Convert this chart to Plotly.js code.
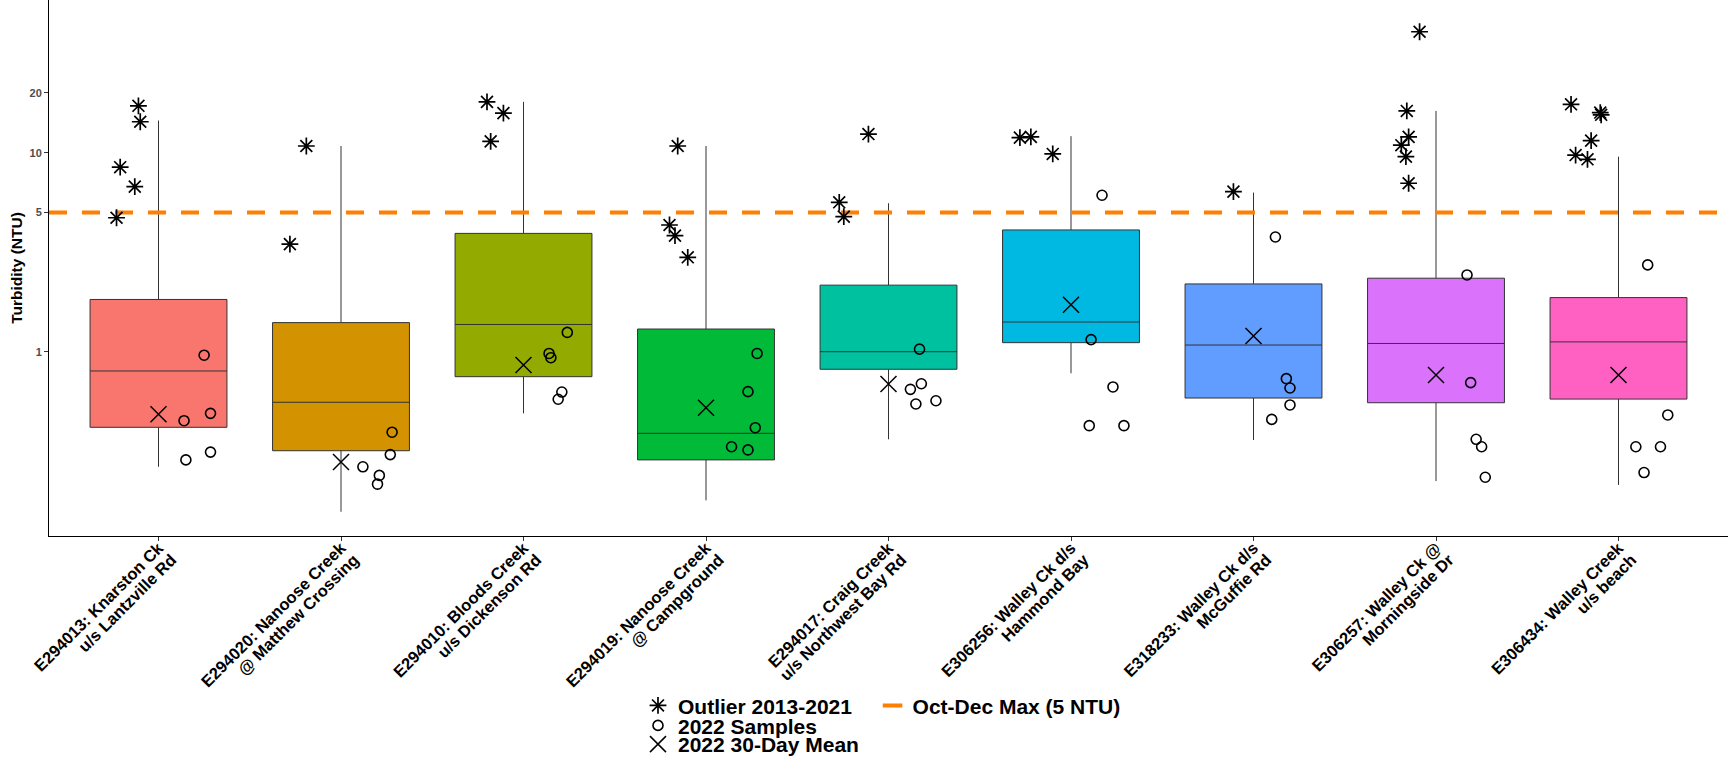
<!DOCTYPE html>
<html><head><meta charset="utf-8">
<script src="https://cdn.plot.ly/plotly-3.0.1.min.js"></script>
<style>html,body{margin:0;padding:0;background:#fff}#chart{width:1732px;height:767px}</style>
</head><body><div id="chart"></div>
<script>
const siteLine1 = [
  "E294013: Knarston Ck", "E294020: Nanoose Creek", "E294010: Bloods Creek",
  "E294019: Nanoose Creek", "E294017: Craig Creek", "E306256: Walley Ck d/s",
  "E318233: Walley Ck d/s", "E306257: Walley Ck @", "E306434: Walley Creek"
];
const siteLine2 = [
  "u/s Lantzville Rd", "@ Matthew Crossing", "u/s Dickenson Rd",
  "@ Campground", "u/s Northwest Bay Rd", "Hammond Bay",
  "McGuffie Rd", "Morningside Dr", "u/s beach"
];
const boxColors = ["#F8766D","#D39200","#93AA00","#00BA38","#00C19F","#00B9E3","#619CFF","#DB72FB","#FF61C3"];
const q1Vals     = [0.417, 0.318, 0.749, 0.286, 0.816, 1.11, 0.585, 0.554, 0.578];
const medianVals = [0.80, 0.557, 1.37, 0.389, 1.00, 1.41, 1.08, 1.10, 1.12];
const q3Vals     = [1.83, 1.40, 3.93, 1.30, 2.16, 4.09, 2.19, 2.34, 1.87];
const lowerVals  = [0.264, 0.157, 0.49, 0.179, 0.363, 0.779, 0.360, 0.224, 0.214];
const upperVals  = [14.5, 10.8, 18.0, 10.8, 5.57, 12.1, 6.30, 16.2, 9.55];

const outlierSite   = [0,0,0,0,0, 1,1, 2,2,2, 3,3,3,3, 4,4,4, 5,5,5, 6, 7,7,7,7,7,7, 8,8,8,8,8,8];
const outlierValue  = [17.2,14.3,8.45,6.75,4.71, 10.8,3.47, 18.0,15.8,11.4, 10.8,4.33,3.83,2.98, 12.4,5.63,4.77, 11.9,12.0,9.85, 6.37, 40.5,16.2,12.0,10.9,9.55,7.02, 17.5,15.9,15.5,11.5,9.73,9.26];
const outlierJitter = [-0.11,-0.10,-0.21,-0.13,-0.23, -0.19,-0.28, -0.20,-0.11,-0.18, -0.155,-0.20,-0.17,-0.10, -0.11,-0.27,-0.245, -0.28,-0.22,-0.10, -0.11, -0.09,-0.16,-0.15,-0.19,-0.165,-0.15, -0.26,-0.10,-0.095,-0.15,-0.235,-0.17];

const sampleSite   = [0,0,0,0,0, 1,1,1,1,1, 2,2,2,2,2, 3,3,3,3,3, 4,4,4,4,4, 5,5,5,5,5, 6,6,6,6,6, 7,7,7,7,7, 8,8,8,8,8];
const sampleValue  = [0.96,0.49,0.45,0.313,0.286, 0.394,0.304,0.264,0.239,0.216, 1.25,0.98,0.933,0.627,0.577, 0.98,0.63,0.415,0.333,0.321, 1.03,0.69,0.647,0.546,0.567, 6.11,1.15,0.665,0.425,0.425, 3.77,0.732,0.657,0.540,0.457, 2.43,0.699,0.363,0.333,0.234, 2.73,0.481,0.333,0.333,0.247];
const sampleJitter = [0.25,0.285,0.14,0.285,0.15, 0.28,0.27,0.12,0.21,0.20, 0.24,0.14,0.15,0.21,0.19, 0.28,0.23,0.27,0.14,0.23, 0.17,0.18,0.12,0.15,0.26, 0.17,0.11,0.23,0.10,0.29, 0.12,0.18,0.20,0.20,0.10, 0.17,0.19,0.22,0.25,0.27, 0.16,0.27,0.095,0.23,0.14];

const meanVals = [0.485, 0.279, 0.857, 0.523, 0.688, 1.72, 1.20, 0.764, 0.764];
const threshold = 5;
const yTickVals = [1, 5, 10, 20];
const yTickText = ["1", "5", "10", "20"];

const FONT = "Liberation Sans, Arial, sans-serif";
const xRange = [-0.6, siteLine1.length - 0.4];
const idx = siteLine1.map((s, i) => i);

const traces = [];
siteLine1.forEach((s, i) => {
  traces.push({
    type: "box", x: [i], q1: [q1Vals[i]], median: [medianVals[i]], q3: [q3Vals[i]],
    lowerfence: [lowerVals[i]], upperfence: [upperVals[i]],
    width: 0.75, whiskerwidth: 0, boxpoints: false,
    fillcolor: boxColors[i], line: {color: "#333333", width: 1},
    showlegend: false, hoverinfo: "skip"
  });
});
traces.push({
  type: "scatter", mode: "lines", x: xRange, y: [threshold, threshold],
  line: {color: "#FF7F00", width: 4, dash: "18px,15px"}, showlegend: false, hoverinfo: "skip"
});
traces.push({
  type: "scatter", mode: "markers", name: "Outlier 2013-2021", legend: "legend",
  x: outlierSite.map((s, k) => s + outlierJitter[k]), y: outlierValue,
  marker: {symbol: "asterisk-open", size: 14, color: "#000", line: {color: "#000", width: 1.7}}
});
traces.push({
  type: "scatter", mode: "markers", name: "2022 Samples", legend: "legend2",
  x: sampleSite.map((s, k) => s + sampleJitter[k]), y: sampleValue,
  marker: {symbol: "circle-open", size: 10, color: "#000", line: {color: "#000", width: 1.6}}
});
traces.push({
  type: "scatter", mode: "markers", name: "2022 30-Day Mean", legend: "legend3",
  x: idx, y: meanVals, xaxis: "x2",
  marker: {symbol: "x-thin-open", size: 16, color: "#000", line: {color: "#000", width: 1.5}}
});
traces.push({
  type: "scatter", mode: "markers", name: "Oct-Dec Max (5 NTU)", legend: "legend4",
  x: [null], y: [null],
  marker: {symbol: "line-ew-open", size: 14, color: "#FF7F00", line: {color: "#FF7F00", width: 4}}
});

function legendAt(x, y) {
  return {
    orientation: "v", xanchor: "left", yanchor: "middle", x: x, y: y,
    bgcolor: "rgba(0,0,0,0)", itemwidth: 30, tracegroupgap: 0,
    font: {family: FONT, size: 21, color: "#000", weight: "bold"}
  };
}
const tickFont = {family: FONT, size: 16.5, color: "#000", weight: "bold"};

const layout = {
  width: 1732, height: 767,
  margin: {l: 49, r: 4, t: 0, b: 231},
  paper_bgcolor: "#fff", plot_bgcolor: "#fff",
  showlegend: true,
  xaxis: {
    type: "linear", range: xRange, tickvals: idx, ticktext: siteLine1, tickangle: -45,
    showgrid: false, zeroline: false, showline: true, linecolor: "#000", linewidth: 1,
    ticks: "outside", ticklen: 4, tickcolor: "#333", ticklabelstandoff: -9,
    tickfont: tickFont
  },
  xaxis2: {
    type: "linear", range: xRange, matches: "x", overlaying: "x", anchor: "y", side: "bottom",
    tickvals: idx, ticktext: siteLine2, tickangle: -45,
    showgrid: false, zeroline: false, showline: false, ticks: "",
    ticklabelshift: 13, ticklabelstandoff: 10,
    tickfont: tickFont
  },
  yaxis: {
    type: "log", range: [-0.926, 1.767], tickvals: yTickVals, ticktext: yTickText,
    showgrid: false, zeroline: false, showline: true, linecolor: "#000", linewidth: 1,
    ticks: "outside", ticklen: 4, tickcolor: "#333",
    tickfont: {family: FONT, size: 11, color: "#4D4D4D", weight: "bold"},
    title: {text: "Turbidity (NTU)", standoff: 3, font: {family: FONT, size: 15.5, color: "#000", weight: "bold"}}
  },
  legend: legendAt(0.3508, -0.3168),
  legend2: legendAt(0.3508, -0.354),
  legend3: legendAt(0.3508, -0.389),
  legend4: legendAt(0.4905, -0.317)
};

Plotly.newPlot("chart", traces, layout, {displayModeBar: false, staticPlot: true});
</script>
</body></html>
